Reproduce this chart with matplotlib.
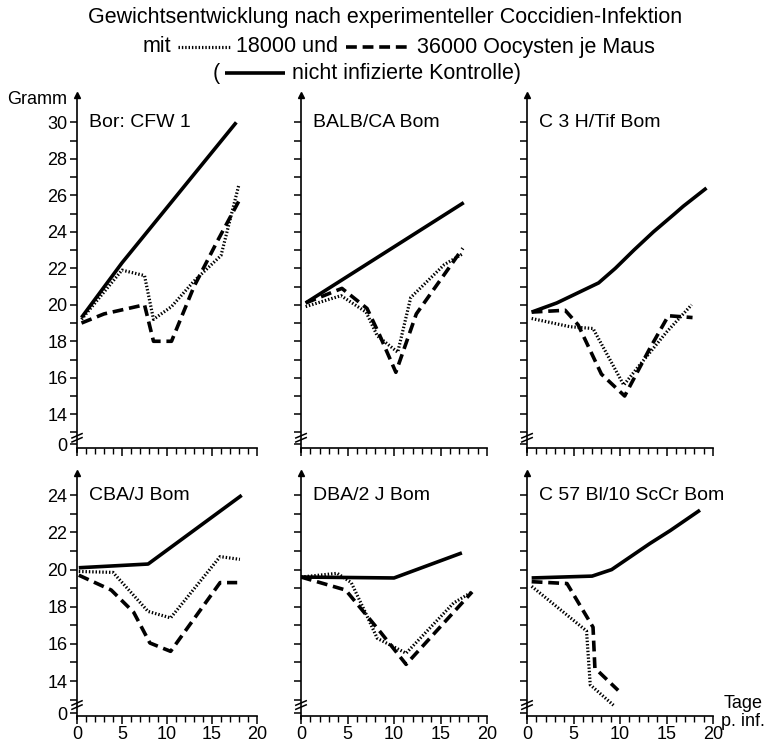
import numpy as np
import matplotlib
matplotlib.use('Agg')
import matplotlib.pyplot as plt
import matplotlib.transforms as mtrans
from matplotlib.lines import Line2D

plt.rcParams['font.family'] = ['Liberation Sans', 'DejaVu Sans']

# strain names
strains = ['Bor: CFW 1', 'BALB/CA Bom', 'C 3 H/Tif Bom',
           'CBA/J Bom', 'DBA/2 J Bom', 'C 57 Bl/10 ScCr Bom']

# Bor: CFW 1  (days p. inf., weight in g)
cfw_ctrl_x = [0.5, 5, 17.7]
cfw_ctrl_y = [19.3, 22.3, 30.0]
cfw_18_x = [0.5, 5, 7.5, 8.5, 10.5, 13, 16, 18]
cfw_18_y = [19.2, 21.9, 21.6, 19.2, 19.9, 21.3, 22.7, 26.6]
cfw_36_x = [0.5, 3, 7.5, 8.5, 10.5, 13, 15.5, 18]
cfw_36_y = [19.0, 19.5, 20.0, 18.0, 18.0, 21.0, 23.4, 25.7]

# BALB/CA Bom
balb_ctrl_x = [0.5, 17.5]
balb_ctrl_y = [20.1, 25.6]
balb_18_x = [0.5, 4.3, 7, 8.2, 10.4, 11.8, 15.4, 17.4]
balb_18_y = [19.9, 20.5, 19.6, 18.3, 17.4, 20.4, 22.2, 22.8]
balb_36_x = [0.5, 4.4, 7.1, 8.4, 10.2, 12.4, 15.6, 17.4]
balb_36_y = [20.1, 20.9, 19.8, 18.4, 16.3, 19.5, 21.8, 23.1]

# C 3 H/Tif Bom
c3h_ctrl_x = [0.5, 3.2, 7.7, 9.5, 11.5, 13.6, 15.9, 16.8, 19.3]
c3h_ctrl_y = [19.6, 20.1, 21.2, 22.0, 23.0, 24.0, 25.0, 25.4, 26.4]
c3h_18_x = [0.5, 4.6, 7.1, 10.4, 11.8, 15, 17.7]
c3h_18_y = [19.25, 18.8, 18.7, 15.6, 16.5, 18.5, 20.0]
c3h_36_x = [0.5, 4.1, 5.5, 8, 10.5, 13.2, 15.2, 17.8]
c3h_36_y = [19.6, 19.7, 18.9, 16.2, 15.0, 17.6, 19.4, 19.3]

# CBA/J Bom
cba_ctrl_x = [0.2, 7.9, 18.3]
cba_ctrl_y = [20.1, 20.3, 24.0]
cba_18_x = [0.2, 4, 7.9, 10.4, 15.9, 18.1]
cba_18_y = [19.9, 19.85, 17.75, 17.4, 20.7, 20.55]
cba_36_x = [0.2, 3.8, 6.3, 8.1, 10.4, 15.9, 17.8]
cba_36_y = [19.7, 18.9, 17.7, 16.05, 15.6, 19.3, 19.3]

# DBA/2 J Bom
dba_ctrl_x = [0, 10, 17.3]
dba_ctrl_y = [19.6, 19.55, 20.9]
dba_18_x = [0, 3.9, 5.4, 7.1, 8.2, 11.3, 16.4, 18.4]
dba_18_y = [19.6, 19.8, 19.3, 17.5, 16.3, 15.5, 18.2, 18.8]
dba_36_x = [0, 4.8, 8.6, 11.3, 18.4]
dba_36_y = [19.6, 18.9, 16.6, 14.9, 18.8]

# C 57 Bl/10 ScCr Bom
c57_ctrl_x = [0.5, 7, 9.1, 13.2, 15.4, 18.6]
c57_ctrl_y = [19.55, 19.65, 20.0, 21.4, 22.1, 23.2]
c57_18_x = [0.5, 6.4, 6.8, 9.3]
c57_18_y = [19.1, 16.7, 13.8, 12.7]
c57_36_x = [0.5, 4.3, 7.1, 7.3, 9.8]
c57_36_y = [19.35, 19.25, 16.9, 14.7, 13.5]

panels = [
    (cfw_ctrl_x, cfw_ctrl_y, cfw_18_x, cfw_18_y, cfw_36_x, cfw_36_y),
    (balb_ctrl_x, balb_ctrl_y, balb_18_x, balb_18_y, balb_36_x, balb_36_y),
    (c3h_ctrl_x, c3h_ctrl_y, c3h_18_x, c3h_18_y, c3h_36_x, c3h_36_y),
    (cba_ctrl_x, cba_ctrl_y, cba_18_x, cba_18_y, cba_36_x, cba_36_y),
    (dba_ctrl_x, dba_ctrl_y, dba_18_x, dba_18_y, dba_36_x, dba_36_y),
    (c57_ctrl_x, c57_ctrl_y, c57_18_x, c57_18_y, c57_36_x, c57_36_y),
]

W, H = 772, 745
fig = plt.figure(figsize=(W / 100, H / 100), dpi=100)

# line styles
solid_kw = dict(color='black', lw=2.6, solid_capstyle='butt')
dash_kw = dict(color='black', lw=2.6, linestyle=(0, (3.0, 1.6)))
dot_kw = dict(color='black', lw=2.3, linestyle=(0, (0.45, 0.6)))

# axes boxes in pixels: left, right, top, bottom
lefts = [77, 301, 527]
rights = [257, 487, 713]
rows = [(95, 448, 31.5, 11.95, 12.15, 12.35, 30), (473, 716, 25.2, 11.95, 12.12, 12.28, 24)]

fs = 13
for i, (cx, cy, ax18, ay18, ax36, ay36) in enumerate(panels):
    r, c = divmod(i, 3)
    top_px, bot_px, ytop, ybot, xaxis_y, zero_y, ymax_tick = rows[r]
    # left spine extends a little below the x axis
    bot_full = bot_px + (xaxis_y - ybot) / (ytop - xaxis_y) * (bot_px - top_px)
    ax = fig.add_axes([lefts[c] / W, 1 - bot_full / H,
                       (rights[c] - lefts[c]) / W, (bot_full - top_px) / H])
    ax.set_xlim(0, 20)
    ax.set_ylim(ybot, ytop)
    for s in ['top', 'right']:
        ax.spines[s].set_visible(False)
    ax.spines['bottom'].set_position(('data', xaxis_y))
    ax.spines['left'].set_linewidth(1.2)
    ax.spines['bottom'].set_linewidth(1.2)

    ax.plot(cx, cy, **solid_kw)
    ax.plot(ax18, ay18, **dot_kw)
    ax.plot(ax36, ay36, **dash_kw)

    # y ticks
    yt = [zero_y] + list(range(13, ymax_tick + 1))
    ylab = ['0'] + [str(v) if v % 2 == 0 else '' for v in range(13, ymax_tick + 1)]
    if c == 0:
        ax.set_yticks(yt, ylab)
    else:
        ax.set_yticks(yt, [''] * len(yt))
    ax.tick_params(axis='y', direction='out', length=5, width=1.1, labelsize=fs, pad=2)

    # x ticks
    ax.set_xticks([0, 5, 10, 15, 20])
    ax.set_xticks(np.arange(1, 20), minor=True)
    if r == 1:
        ax.set_xticklabels(['0', '5', '10', '15', '20'])
    else:
        ax.set_xticklabels([])
    ax.tick_params(axis='x', which='major', direction='out', length=5.5, width=1.1,
                   labelsize=fs, pad=1.5)
    ax.tick_params(axis='x', which='minor', direction='out', length=4.5, width=1.0)

    # arrow on the y axis
    ax.plot([0], [1], marker='^', ms=5, color='black', transform=ax.transAxes,
            clip_on=False)

    # axis break mark
    tr = mtrans.blended_transform_factory(ax.transAxes, ax.transData)
    for yb in (12.6, 12.82):
        ax.plot([-0.028, 0.028], [yb - 0.12, yb + 0.12], color='black', lw=1.1,
                transform=tr, clip_on=False)

    ax.text(1.3, ymax_tick, strains[i], fontsize=fs + 1, va='center', ha='left')

# headings
tfs = 15.5
fig.text(385 / W, 1 - 18 / H, 'Gewichtsentwicklung nach experimenteller Coccidien-Infektion',
         ha='center', va='center', fontsize=tfs)
y2 = 1 - 47 / H
fig.text(143 / W, y2, 'mit', ha='left', va='center', fontsize=tfs)
fig.add_artist(Line2D([178 / W, 230 / W], [y2, y2], transform=fig.transFigure, **dot_kw))
fig.text(236 / W, y2, '18000 und', ha='left', va='center', fontsize=tfs)
fig.add_artist(Line2D([346 / W, 412 / W], [y2, y2], transform=fig.transFigure, **dash_kw))
fig.text(417 / W, y2, '36000 Oocysten je Maus', ha='left', va='center', fontsize=tfs)
y3 = 1 - 73 / H
fig.text(213 / W, y3, '(', ha='left', va='center', fontsize=tfs)
fig.add_artist(Line2D([225 / W, 285 / W], [y3, y3], transform=fig.transFigure, **solid_kw))
fig.text(292 / W, y3, 'nicht infizierte Kontrolle)', ha='left', va='center', fontsize=tfs)

fig.text(7 / W, 1 - 100 / H, 'Gramm', ha='left', va='center', fontsize=fs)
fig.text(724 / W, 1 - 704 / H, 'Tage', ha='left', va='center', fontsize=fs)
fig.text(721 / W, 1 - 721 / H, 'p. inf.', ha='left', va='center', fontsize=fs)

fig.savefig('out.png', dpi=100)
